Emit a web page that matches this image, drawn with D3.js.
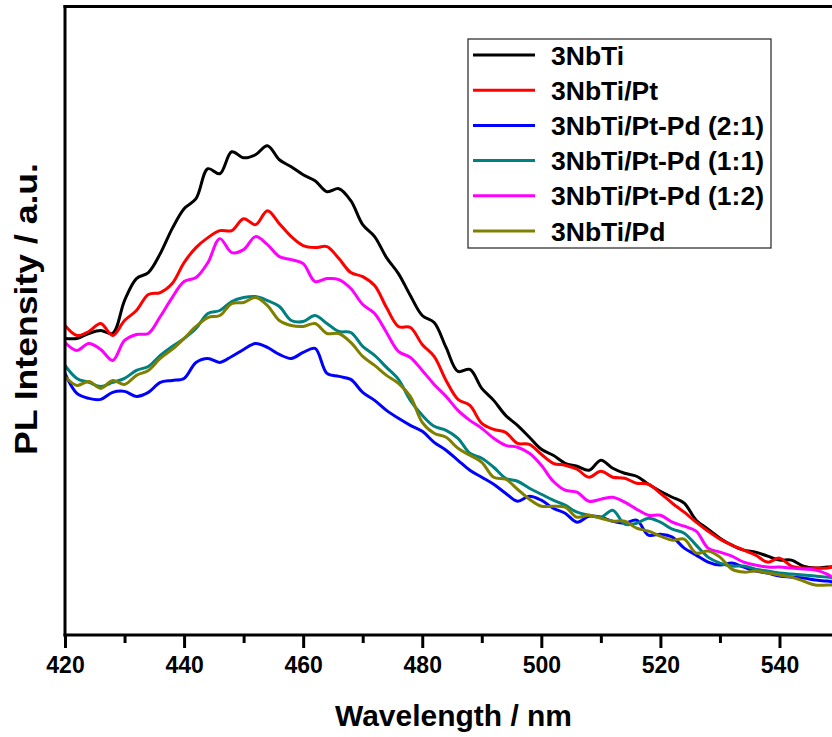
<!DOCTYPE html>
<html>
<head>
<meta charset="utf-8">
<script src="https://cdn.jsdelivr.net/npm/d3@7"></script>
<style>
  html, body { margin: 0; padding: 0; background: #fff; }
  svg { display: block; }
  text { font-family: "Liberation Sans", Arial, sans-serif; font-weight: bold; fill: #000; }
</style>
</head>
<body>
<svg id="chart" width="832" height="737"></svg>
<script>
// ---- data (PL intensity, a.u.) ----
const wavelengths = [420,422,424,426,428,430,432,434,436,438,440,442,444,446,448,450,452,454,456,458,460,462,464,466,468,470,472,474,476,478,480,482,484,486,488,490,492,494,496,498,500,502,504,506,508,510,512,514,516,518,520,522,524,526,528,530,532,534,536,538,540,542,544,546,548,549];

const series_3NbTi = [297,297,302,305,302,335,357,363,382,407,427,437,467,462,484,478,481,490,476,469,461,455,444,447,435,411,399,378,362,340,320,313,288,264,266,247,235,220,210,198,186,180,172,169,165,175,167,162,159,151,144,138,132,115,106,97,90,85,83,79,75,75,69,67,68,68];
const series_Pt = [310,300,304,312,300,315,325,341,343,352,373,388,398,405,405,417,411,425,412,399,390,388,389,377,363,359,350,328,309,308,291,279,255,236,230,212,206,203,192,191,181,172,170,166,158,164,158,157,152,151,142,132,123,113,104,96,90,85,80,73,77,69,67,67,67,69];
const series_PtPd21 = [262,242,237,236,243,244,239,243,253,255,257,273,277,273,279,286,292,288,281,277,283,287,262,259,256,243,235,225,217,210,204,193,185,175,165,158,151,142,134,139,135,127,122,113,119,118,114,112,115,100,101,98,87,80,73,70,72,68,64,62,59,58,57,55,54,53];
const series_PtPd11 = [270,257,253,249,253,257,265,269,280,289,297,307,322,325,334,338,339,335,329,315,314,320,312,304,303,289,280,268,256,235,220,209,205,197,182,177,168,157,154,147,141,135,130,123,120,118,125,111,112,117,113,106,102,90,78,72,69,69,66,64,62,61,60,59,58,57];
const series_PtPd12 = [293,285,292,286,275,295,301,302,319,338,354,358,373,397,383,386,399,391,379,376,372,354,357,356,347,331,322,303,284,278,265,251,239,225,215,207,197,190,188,182,170,154,145,143,134,136,138,133,126,120,120,113,109,104,87,83,79,73,70,68,68,67,66,65,61,57];
const series_Pd = [259,250,254,247,255,251,260,265,277,286,297,309,318,320,332,333,338,330,315,310,309,312,302,302,293,279,270,260,252,239,213,202,198,187,180,173,158,156,146,136,129,129,128,118,120,117,114,114,107,104,99,95,96,82,84,78,66,63,64,62,60,58,54,50,50,50];

const seriesNames = ["3NbTi", "3NbTi/Pt", "3NbTi/Pt-Pd (2:1)", "3NbTi/Pt-Pd (1:1)", "3NbTi/Pt-Pd (1:2)", "3NbTi/Pd"];
const seriesColors = ["#000000", "#ff0000", "#0000ff", "#008080", "#ff00ff", "#808000"];
const seriesValues = [series_3NbTi, series_Pt, series_PtPd21, series_PtPd11, series_PtPd12, series_Pd];

const majorTicks = [420, 440, 460, 480, 500, 520, 540];
const minorTicks = [430, 450, 470, 490, 510, 530];
const xTitle = "Wavelength / nm";
const yTitle = "PL Intensity / a.u.";

// ---- layout ----
const W = 832, H = 737;
const mLeft = 65, mRight = 832, mTop = 6.5, mBottom = 635;

const svg = d3.select("#chart");

const x = d3.scaleLinear().domain([420, 548.82]).range([mLeft, mRight]);
const y = d3.scaleLinear().domain([0, 629]).range([mBottom, mTop + 0.5]);

svg.append("defs").append("clipPath").attr("id", "plotclip")
  .append("rect").attr("x", mLeft).attr("y", mTop).attr("width", mRight - mLeft).attr("height", mBottom - mTop);

// curves
const line = d3.line()
  .x((d, i) => x(wavelengths[i]))
  .y(d => y(d))
  .curve(d3.curveCatmullRom.alpha(0.5));

const g = svg.append("g").attr("clip-path", "url(#plotclip)");
seriesValues.forEach((vals, k) => {
  g.append("path")
    .datum(vals)
    .attr("d", line)
    .attr("fill", "none")
    .attr("stroke", seriesColors[k])
    .attr("stroke-width", 3)
    .attr("stroke-linejoin", "round")
    .attr("stroke-linecap", "round");
});

// bottom axis (major with labels)
const xAxis = d3.axisBottom(x).tickValues(majorTicks).tickSize(13).tickPadding(9).tickFormat(d3.format("d"));
const gx = svg.append("g").attr("transform", `translate(0,${mBottom})`).call(xAxis);
gx.select(".domain").remove();
gx.selectAll(".tick line").attr("stroke", "#000").attr("stroke-width", 3);
gx.selectAll(".tick text").attr("font-size", 23).attr("font-weight", "bold")
  .attr("font-family", "'Liberation Sans', Arial, sans-serif").attr("fill", "#000");

// minor ticks
const xMinor = d3.axisBottom(x).tickValues(minorTicks).tickSize(8).tickFormat("");
const gxm = svg.append("g").attr("transform", `translate(0,${mBottom})`).call(xMinor);
gxm.select(".domain").remove();
gxm.selectAll(".tick line").attr("stroke", "#000").attr("stroke-width", 3);

// frame lines
svg.append("line").attr("x1", mLeft - 1.5).attr("x2", W).attr("y1", mBottom).attr("y2", mBottom)
  .attr("stroke", "#000").attr("stroke-width", 3);
svg.append("line").attr("x1", mLeft).attr("x2", mLeft).attr("y1", mTop - 1.5).attr("y2", mBottom + 1.5)
  .attr("stroke", "#000").attr("stroke-width", 3);
svg.append("line").attr("x1", mLeft - 1.5).attr("x2", W).attr("y1", mTop).attr("y2", mTop)
  .attr("stroke", "#000").attr("stroke-width", 3);

// axis titles
svg.append("text").attr("x", 453.5).attr("y", 726).attr("text-anchor", "middle")
  .attr("font-size", 29).attr("textLength", 237).attr("lengthAdjust", "spacingAndGlyphs").text(xTitle);
svg.append("text").attr("transform", "translate(37,309) rotate(-90)").attr("text-anchor", "middle")
  .attr("font-size", 31).attr("textLength", 292).attr("lengthAdjust", "spacingAndGlyphs").text(yTitle);

// legend
const lg = svg.append("g");
lg.append("rect").attr("x", 468).attr("y", 39).attr("width", 303).attr("height", 209)
  .attr("fill", "#fff").attr("stroke", "#333").attr("stroke-width", 1.3);
const rowY = d3.scalePoint().domain(seriesNames).range([55, 231]);
seriesNames.forEach((name, k) => {
  const yy = rowY(name);
  lg.append("line").attr("x1", 473).attr("x2", 535).attr("y1", yy).attr("y2", yy)
    .attr("stroke", seriesColors[k]).attr("stroke-width", 3);
  lg.append("text").attr("x", 551).attr("y", yy).attr("dy", "0.36em")
    .attr("font-size", 26.5).text(name);
});
</script>
</body>
</html>
